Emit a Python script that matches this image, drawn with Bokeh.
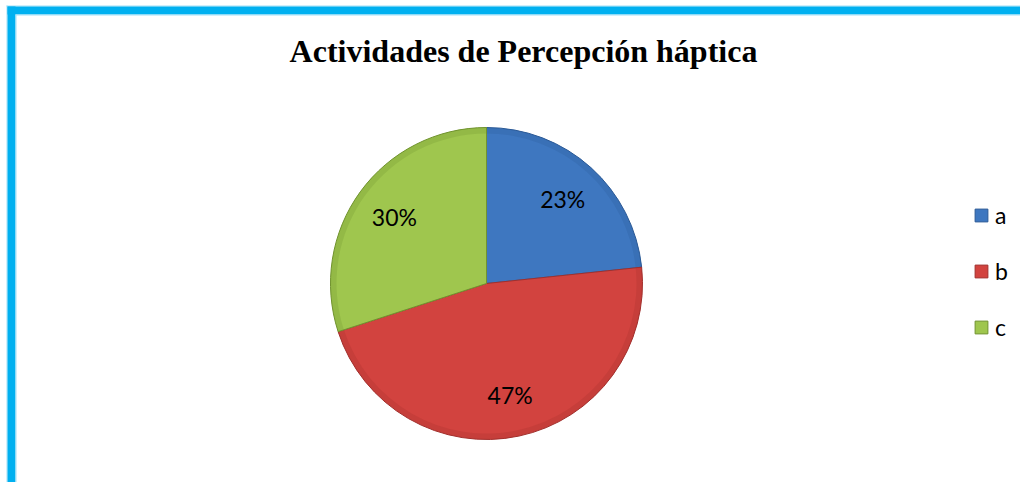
import math
from bokeh.plotting import figure
from bokeh.models import Range1d, ColumnDataSource, Legend, LegendItem, Label
from bokeh.core.properties import value
from bokeh.embed import file_html
from bokeh.resources import INLINE

# ---- data ----
categories = ["a", "b", "c"]
counts = [7, 14, 9]
colors = ["#3E77C0", "#D2433F", "#9FC64E"]
edge_colors = ["#2C5A96", "#A2302D", "#71932F"]
title_text = "Actividades de Percepción háptica"

W, H = 1020, 482
p = figure(width=W, height=H, output_backend="svg", toolbar_location=None,
           x_range=Range1d(0, W), y_range=Range1d(0, H), min_border=0)
p.axis.visible = False
p.grid.visible = False
p.outline_line_color = None
p.background_fill_color = "white"
p.border_fill_color = "white"

# frame border (top and left visible, rest clipped like the reference)
p.quad(left=[6], right=[7], bottom=[0], top=[H - 5], fill_color="#9FE0F8", line_color=None)
p.quad(left=[6], right=[W], bottom=[H - 6], top=[H - 5], fill_color="#9FE0F8", line_color=None)
p.quad(left=[7], right=[15], bottom=[0], top=[H - 6], fill_color="#00B0F0", line_color=None)
p.quad(left=[7], right=[W], bottom=[H - 14], top=[H - 6], fill_color="#00B0F0", line_color=None)
p.quad(left=[15], right=[16], bottom=[0], top=[H - 14], fill_color="#9FE0F8", line_color=None)
p.quad(left=[15], right=[W], bottom=[H - 15], top=[H - 14], fill_color="#9FE0F8", line_color=None)

# pie
cx, cy, R = 486, 199, 156
total = sum(counts)
starts, ends, mids, labels = [], [], [], []
ang = math.pi / 2
for c in counts:
    sweep = 2 * math.pi * c / total
    starts.append(ang - sweep)
    ends.append(ang)
    mids.append(ang - sweep / 2)
    labels.append(f"{round(100 * c / total)}%")
    ang -= sweep

items = []
for i, cat in enumerate(categories):
    r = p.wedge(x=cx, y=cy, radius=R, start_angle=starts[i], end_angle=ends[i],
                fill_color=colors[i], line_color=edge_colors[i], line_width=1)
    # subtle bevel: darker rim
    p.annular_wedge(x=cx, y=cy, inner_radius=R - 6, outer_radius=R, start_angle=starts[i],
                    end_angle=ends[i], fill_color=edge_colors[i], fill_alpha=0.25, line_color=None)
    items.append(LegendItem(label=cat, renderers=[r]))

lr = 0.73 * R
lx = [cx + lr * math.cos(m) for m in mids]
ly = [cy + lr * math.sin(m) for m in mids]
src = ColumnDataSource(dict(x=lx, y=ly, t=labels))
p.text(x="x", y="y", text="t", source=src, text_align="center", text_baseline="middle",
       text_font=value("Lato"), text_font_size="23px", text_color="black")

legend = Legend(items=items, location=(973, 141), orientation="vertical",
                glyph_width=16, glyph_height=16, label_height=20, spacing=28,
                label_standoff=6, padding=0, margin=0,
                label_text_font="Lato", label_text_font_size="23px", label_text_color="black",
                border_line_color=None, background_fill_alpha=0)
p.add_layout(legend)

p.add_layout(Label(x=523, y=432, text=title_text, text_align="center", text_baseline="alphabetic",
                   text_font="Liberation Serif", text_font_style="bold", text_font_size="32px",
                   text_color="black"))

open("out.html", "w").write(file_html(p, INLINE))
